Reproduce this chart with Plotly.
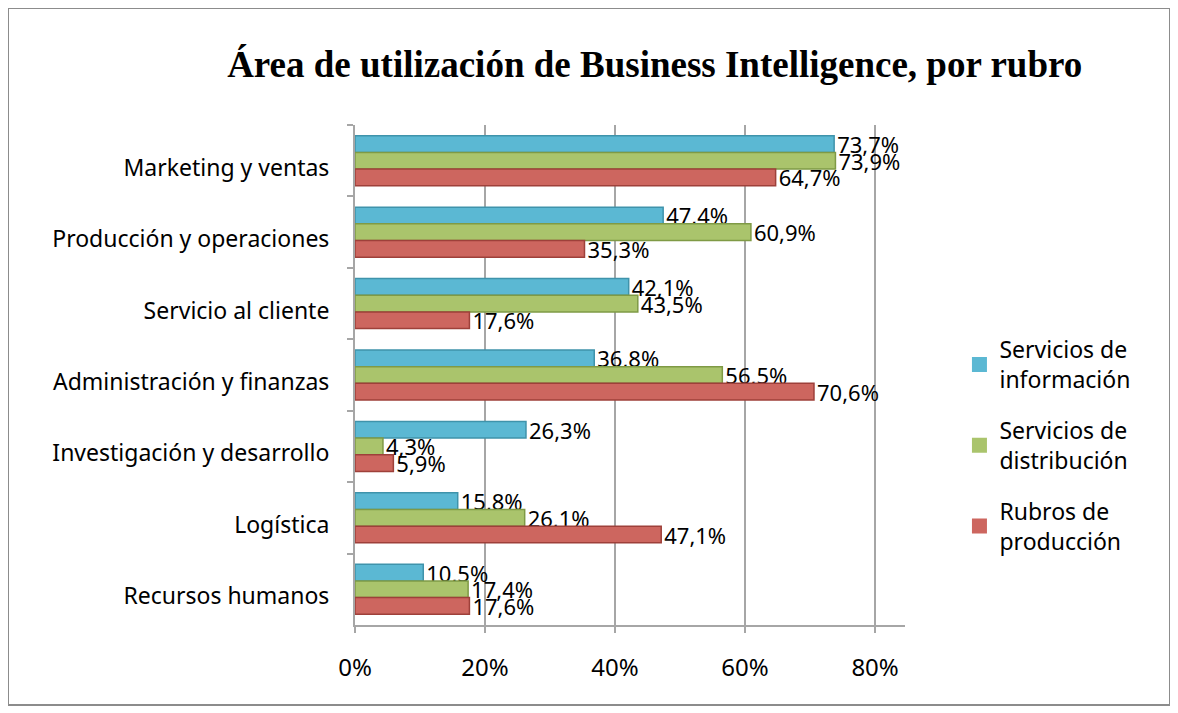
import plotly.graph_objects as go

categorias = [
    "Marketing y ventas",
    "Producción y operaciones",
    "Servicio al cliente",
    "Administración y finanzas",
    "Investigación y desarrollo",
    "Logística",
    "Recursos humanos",
]
serv_informacion = [73.7, 47.4, 42.1, 36.8, 26.3, 15.8, 10.5]
serv_distribucion = [73.9, 60.9, 43.5, 56.5, 4.3, 26.1, 17.4]
rubros_produccion = [64.7, 35.3, 17.6, 70.6, 5.9, 47.1, 17.6]

series = [
    ("Servicios de<br>información", serv_informacion, "#5bb8d3", "#3f93ab"),
    ("Servicios de<br>distribución", serv_distribucion, "#aac46c", "#7f9a45"),
    ("Rubros de<br>producción", rubros_produccion, "#cd665f", "#9e403a"),
]

fig = go.Figure()
for i, (nombre, valores, color, borde) in enumerate(series):
    fig.add_trace(go.Bar(
        y=categorias,
        x=valores,
        name=nombre,
        orientation="h",
        showlegend=False,
        marker=dict(color=color, line=dict(color=borde, width=1.5)),
        text=[f"{v:.1f}%".replace(".", ",") for v in valores],
        textposition="outside",
        constraintext="none",
        textfont=dict(size=22, color="black"),
        cliponaxis=False,
    ))
    # legend entry with a larger square swatch
    fig.add_trace(go.Scatter(
        x=[None], y=[None],
        mode="markers",
        name=nombre,
        legendgroup=str(i),
        marker=dict(symbol="square", size=15, color=color),
    ))

# the page body adds an 8px offset, margins compensate for it
fig.update_layout(
    width=1178,
    height=713,
    barmode="group",
    bargap=0.3,
    bargroupgap=0,
    paper_bgcolor="white",
    plot_bgcolor="white",
    font=dict(family="Noto Sans", size=23, color="black"),
    margin=dict(l=347, r=281, t=117, b=96, autoexpand=False),
    title=dict(
        text="<b>Área de utilización de Business Intelligence, por rubro</b>",
        font=dict(family="Liberation Serif", size=37, color="black"),
        x=0.549, xanchor="center", y=0.922, yanchor="middle",
    ),
    xaxis=dict(
        range=[0, 84.6],
        tickvals=[0, 20, 40, 60, 80],
        ticktext=["0%", "20%", "40%", "60%", "80%"],
        tickfont=dict(size=24),
        showgrid=True, gridcolor="#a6a6a6", gridwidth=2,
        showline=True, linecolor="#a6a6a6", linewidth=2,
        ticks="outside", ticklen=6, tickcolor="#a6a6a6", tickwidth=2,
        ticklabelstandoff=14,
        zeroline=False,
        automargin=False,
    ),
    yaxis=dict(
        autorange="reversed",
        showline=True, linecolor="#a6a6a6", linewidth=2,
        ticks="outside", tickson="boundaries", ticklen=6,
        tickcolor="#a6a6a6", tickwidth=2,
        ticklabelstandoff=19,
        ticklabelshift=-7,
        showgrid=False,
        automargin=False,
    ),
    legend=dict(
        x=1.099, y=0.594, xanchor="left", yanchor="top",
        font=dict(size=23),
        tracegroupgap=18,
        itemwidth=30,
    ),
    shapes=[dict(
        type="rect", xref="paper", yref="paper",
        x0=-347 / 550, x1=815 / 550, y0=-80 / 500, y1=617 / 500,
        line=dict(color="#8c8c8c", width=2), fillcolor="rgba(0,0,0,0)",
    )],
)

fig.write_html("out.html")
